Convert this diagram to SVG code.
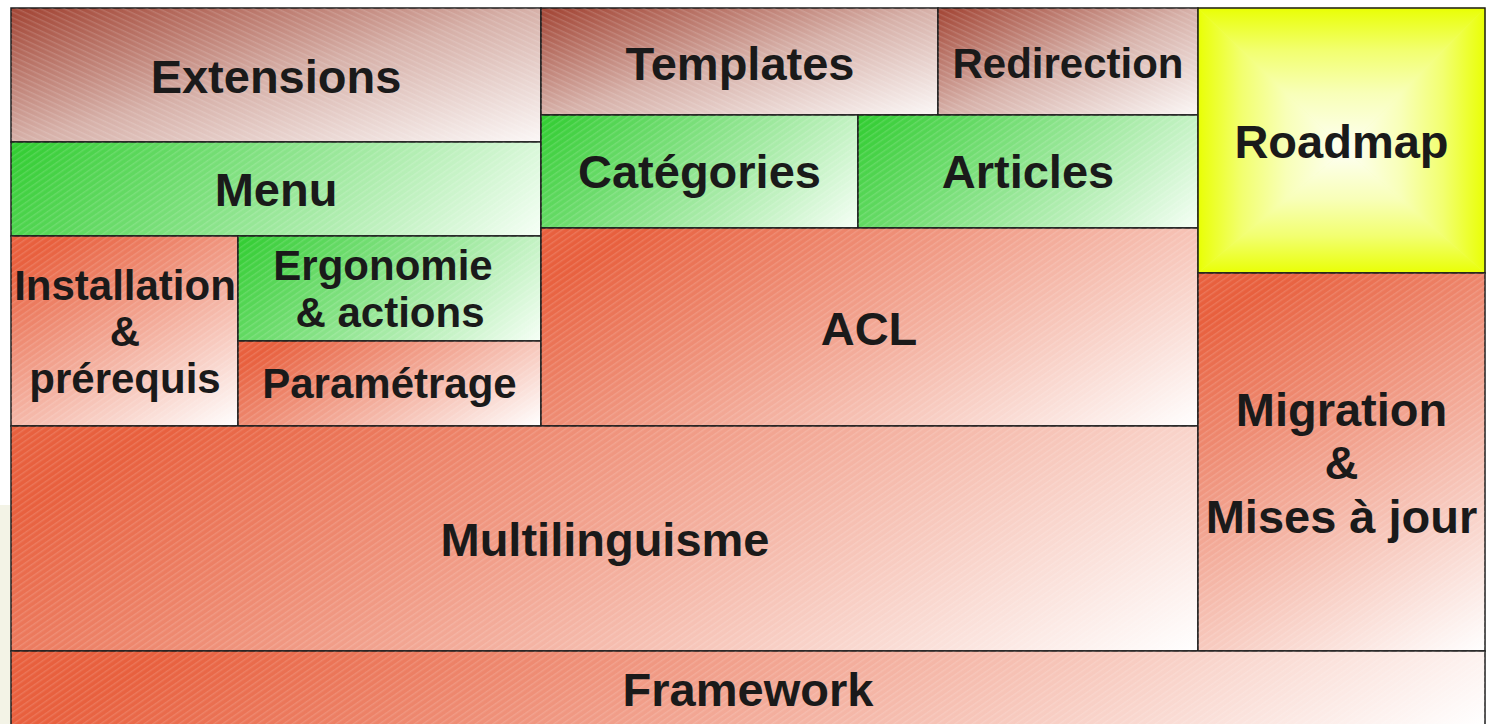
<svg xmlns="http://www.w3.org/2000/svg" width="1486" height="724" viewBox="0 0 1486 724">
<defs>
<style>
.box{stroke:#1c1c1c;stroke-width:1.5}
.t{font-family:"Liberation Sans",Arial,sans-serif;font-weight:bold;font-size:47px;fill:#1a1a1a;text-anchor:middle}
.s{font-size:42px}
.tex{stroke:none}
</style>
<pattern id="hatchU" patternUnits="userSpaceOnUse" width="5" height="5" patternTransform="rotate(-35)">
<rect width="5" height="1.4" fill="#ffffff" opacity="0.14"/>
</pattern>
<pattern id="hatchD" patternUnits="userSpaceOnUse" width="5" height="5" patternTransform="rotate(25)">
<rect width="5" height="1.4" fill="#ffffff" opacity="0.14"/>
</pattern>
<!-- brown -->
<linearGradient id="gBrown" x1="0" y1="0" x2="1" y2="1"><stop offset="0" stop-color="#a54a3a"/><stop offset="0.03" stop-color="#a54a3a"/><stop offset="0.5" stop-color="#d6b0a8"/><stop offset="1" stop-color="#fbf7f6"/></linearGradient>
<!-- green -->
<linearGradient id="gMenu" gradientUnits="userSpaceOnUse" x1="11" y1="142" x2="323" y2="454"><stop offset="0" stop-color="#2fcc2f"/><stop offset="1" stop-color="#f6fff6"/></linearGradient>
<linearGradient id="gErg" gradientUnits="userSpaceOnUse" x1="238" y1="236" x2="442" y2="440"><stop offset="0" stop-color="#2fcc2f"/><stop offset="1" stop-color="#f6fff6"/></linearGradient>
<linearGradient id="gCat" gradientUnits="userSpaceOnUse" x1="541" y1="115" x2="756" y2="330"><stop offset="0" stop-color="#2fcc2f"/><stop offset="1" stop-color="#f6fff6"/></linearGradient>
<linearGradient id="gArt" gradientUnits="userSpaceOnUse" x1="858" y1="115" x2="1085" y2="342"><stop offset="0" stop-color="#2fcc2f"/><stop offset="1" stop-color="#f6fff6"/></linearGradient>
<!-- red -->
<linearGradient id="gIns" gradientUnits="userSpaceOnUse" x1="11" y1="236" x2="150" y2="476.8"><stop offset="0" stop-color="#e8603e"/><stop offset="0.1" stop-color="#e8603e"/><stop offset="1" stop-color="#ffffff"/></linearGradient>
<linearGradient id="gPar" gradientUnits="userSpaceOnUse" x1="238" y1="341" x2="350.6" y2="535.9"><stop offset="0" stop-color="#e8603e"/><stop offset="0.1" stop-color="#e8603e"/><stop offset="1" stop-color="#ffffff"/></linearGradient>
<linearGradient id="gAcl" gradientUnits="userSpaceOnUse" x1="541" y1="228" x2="791" y2="661"><stop offset="0" stop-color="#e8603e"/><stop offset="0.1" stop-color="#e8603e"/><stop offset="1" stop-color="#ffffff"/></linearGradient>
<linearGradient id="gMul" gradientUnits="userSpaceOnUse" x1="11" y1="426" x2="405.2" y2="1108.8"><stop offset="0" stop-color="#e8603e"/><stop offset="0.1" stop-color="#e8603e"/><stop offset="1" stop-color="#ffffff"/></linearGradient>
<linearGradient id="gMig" gradientUnits="userSpaceOnUse" x1="1198" y1="273" x2="1433.4" y2="680.7"><stop offset="0" stop-color="#e8603e"/><stop offset="0.1" stop-color="#e8603e"/><stop offset="1" stop-color="#ffffff"/></linearGradient>
<linearGradient id="gFra" gradientUnits="userSpaceOnUse" x1="11" y1="651" x2="411.1" y2="1344"><stop offset="0" stop-color="#e8603e"/><stop offset="0.1" stop-color="#e8603e"/><stop offset="1" stop-color="#ffffff"/></linearGradient>
<!-- yellow square gradient pieces -->
<linearGradient id="yT" gradientUnits="userSpaceOnUse" x1="0" y1="8" x2="0" y2="150"><stop offset="0" stop-color="#e8ff00"/><stop offset="0.03" stop-color="#eaff10"/><stop offset="0.3" stop-color="#f2ff70"/><stop offset="0.6" stop-color="#f8ffb8"/><stop offset="1" stop-color="#fefff4"/></linearGradient>
<linearGradient id="yB" gradientUnits="userSpaceOnUse" x1="0" y1="273" x2="0" y2="150"><stop offset="0" stop-color="#e8ff00"/><stop offset="0.03" stop-color="#eaff10"/><stop offset="0.3" stop-color="#f2ff70"/><stop offset="0.6" stop-color="#f8ffb8"/><stop offset="1" stop-color="#fefff4"/></linearGradient>
<linearGradient id="yL" gradientUnits="userSpaceOnUse" x1="1198" y1="0" x2="1345" y2="0"><stop offset="0" stop-color="#e8ff00"/><stop offset="0.03" stop-color="#eaff10"/><stop offset="0.3" stop-color="#f2ff70"/><stop offset="0.6" stop-color="#f8ffb8"/><stop offset="1" stop-color="#fefff4"/></linearGradient>
<linearGradient id="yR" gradientUnits="userSpaceOnUse" x1="1485" y1="0" x2="1345" y2="0"><stop offset="0" stop-color="#e8ff00"/><stop offset="0.03" stop-color="#eaff10"/><stop offset="0.3" stop-color="#f2ff70"/><stop offset="0.6" stop-color="#f8ffb8"/><stop offset="1" stop-color="#fefff4"/></linearGradient>
</defs>

<rect x="0" y="0" width="1486" height="724" fill="#ffffff"/>
<rect x="0" y="505" width="11" height="219" fill="#f3f3e6"/>

<g id="extensions">
<rect class="box" x="11" y="8" width="530" height="134" fill="url(#gBrown)"/>
<rect class="tex" x="11" y="8" width="530" height="134" fill="url(#hatchD)"/>
<text class="t" x="276" y="93">Extensions</text>
</g>
<g id="menu">
<rect class="box" x="11" y="142" width="530" height="94" fill="url(#gMenu)"/>
<rect class="tex" x="11" y="142" width="530" height="94" fill="url(#hatchU)"/>
<text class="t" x="276" y="206">Menu</text>
</g>
<g id="installation">
<rect class="box" x="11" y="236" width="227" height="190" fill="url(#gIns)"/>
<rect class="tex" x="11" y="236" width="227" height="190" fill="url(#hatchU)"/>
<text class="t s" x="125" y="300">Installation</text>
<text class="t s" x="125" y="346">&amp;</text>
<text class="t s" x="125" y="393">prérequis</text>
</g>
<g id="ergonomie">
<rect class="box" x="238" y="236" width="303" height="105" fill="url(#gErg)"/>
<rect class="tex" x="238" y="236" width="303" height="105" fill="url(#hatchU)"/>
<text class="t s" x="383" y="280">Ergonomie</text>
<text class="t s" x="390" y="327">&amp; actions</text>
</g>
<g id="parametrage">
<rect class="box" x="238" y="341" width="303" height="85" fill="url(#gPar)"/>
<rect class="tex" x="238" y="341" width="303" height="85" fill="url(#hatchU)"/>
<text class="t s" x="389.5" y="398">Paramétrage</text>
</g>
<g id="templates">
<rect class="box" x="541" y="8" width="397" height="107" fill="url(#gBrown)"/>
<rect class="tex" x="541" y="8" width="397" height="107" fill="url(#hatchD)"/>
<text class="t" x="740" y="80">Templates</text>
</g>
<g id="redirection">
<rect class="box" x="938" y="8" width="260" height="107" fill="url(#gBrown)"/>
<rect class="tex" x="938" y="8" width="260" height="107" fill="url(#hatchD)"/>
<text class="t s" x="1068" y="78">Redirection</text>
</g>
<g id="categories">
<rect class="box" x="541" y="115" width="317" height="113" fill="url(#gCat)"/>
<rect class="tex" x="541" y="115" width="317" height="113" fill="url(#hatchU)"/>
<text class="t" x="699.5" y="188">Catégories</text>
</g>
<g id="articles">
<rect class="box" x="858" y="115" width="340" height="113" fill="url(#gArt)"/>
<rect class="tex" x="858" y="115" width="340" height="113" fill="url(#hatchU)"/>
<text class="t" x="1028" y="188">Articles</text>
</g>
<g id="acl">
<rect class="box" x="541" y="228" width="657" height="198" fill="url(#gAcl)"/>
<rect class="tex" x="541" y="228" width="657" height="198" fill="url(#hatchU)"/>
<text class="t" x="869" y="345">ACL</text>
</g>
<g id="multilinguisme">
<rect class="box" x="11" y="426" width="1187" height="225" fill="url(#gMul)"/>
<rect class="tex" x="11" y="426" width="1187" height="225" fill="url(#hatchU)"/>
<text class="t" x="605" y="556">Multilinguisme</text>
</g>
<g id="roadmap">
<rect x="1198" y="8" width="287" height="265" fill="#f5ff95"/>
<polygon points="1198,8 1485,8 1345,150" fill="url(#yT)" stroke="url(#yT)" stroke-width="0.6"/>
<polygon points="1198,273 1485,273 1345,150" fill="url(#yB)" stroke="url(#yB)" stroke-width="0.6"/>
<polygon points="1198,8 1198,273 1345,150" fill="url(#yL)" stroke="url(#yL)" stroke-width="0.6"/>
<polygon points="1485,8 1485,273 1345,150" fill="url(#yR)" stroke="url(#yR)" stroke-width="0.6"/>
<rect class="box" x="1198" y="8" width="287" height="265" fill="none"/>
<text class="t" x="1341.5" y="158">Roadmap</text>
</g>
<g id="migration">
<rect class="box" x="1198" y="273" width="287" height="378" fill="url(#gMig)"/>
<rect class="tex" x="1198" y="273" width="287" height="378" fill="url(#hatchU)"/>
<text class="t" x="1341.5" y="426">Migration</text>
<text class="t" x="1341.5" y="479">&amp;</text>
<text class="t" x="1341.5" y="533">Mises à jour</text>
</g>
<g id="framework">
<rect class="box" x="11" y="651" width="1474" height="80" fill="url(#gFra)"/>
<rect class="tex" x="11" y="651" width="1474" height="80" fill="url(#hatchU)"/>
<text class="t" x="748" y="706">Framework</text>
</g>
<g id="connectors"></g>
</svg>
